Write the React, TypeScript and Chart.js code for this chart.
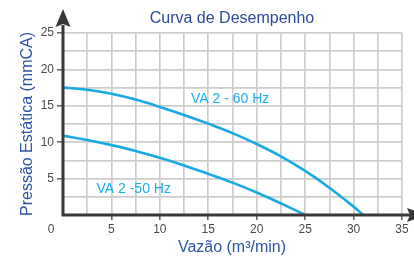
import React, { useEffect, useRef } from "react";
import { Chart, registerables } from "chart.js";

Chart.register(...registerables);

// Data
const flow60: number[] = [0, 2.5, 5, 7.5, 10, 12.5, 15, 17.5, 20, 22.5, 25, 27.5, 30, 31];
const pressure60: number[] = [17.5, 17.2, 16.65, 15.85, 14.85, 13.75, 12.55, 11.25, 9.75, 8.05, 6.05, 3.75, 1.15, 0];
const flow50: number[] = [0, 2.5, 5, 7.5, 10, 12.5, 15, 17.5, 20, 22.5, 25];
const pressure50: number[] = [10.9, 10.3, 9.6, 8.8, 7.85, 6.8, 5.65, 4.45, 3.1, 1.6, 0];

const titleText = "Curva de Desempenho";
const xTitle = "Vazão (m³/min)";
const yTitle = "Pressão Estática (mmCA)";
const label60 = "VA 2 - 60 Hz";
const label50 = "VA 2 -50 Hz";
const xMax = 35;
const yMax = 25;
const majorStep = 5;
const gridStep = 2.5;

const FONT = "'Liberation Sans', Arial, sans-serif";
const LINE_COLOR = "#1aa9e2";
const LABEL_COLOR = "#19aeea";
const AXIS_COLOR = "#383838";
const GRID_COLOR = "#cccccc";
const TICK_TEXT = "#4a4a4a";
const TITLE_COLOR = "#2d4b9b";
const AXIS_TITLE_COLOR = "#2f54a5";

const isMajor = (v: number) => Math.abs(v / majorStep - Math.round(v / majorStep)) < 1e-6;

const decorPlugin = {
  id: "decor",
  afterDraw(chart: any) {
    const { ctx, scales } = chart;
    const xs = scales.x;
    const ys = scales.y;
    const x0 = xs.getPixelForValue(0);
    const y0 = ys.getPixelForValue(0);
    const xEnd = xs.getPixelForValue(xMax);
    const yTop = ys.getPixelForValue(yMax);
    ctx.save();
    // axes
    ctx.strokeStyle = AXIS_COLOR;
    ctx.fillStyle = AXIS_COLOR;
    ctx.lineWidth = 3;
    ctx.beginPath();
    ctx.moveTo(x0, y0 + 1.5);
    ctx.lineTo(x0, yTop - 8);
    ctx.moveTo(x0 - 1.5, y0);
    ctx.lineTo(xEnd + 8, y0);
    ctx.stroke();
    // top arrow
    ctx.beginPath();
    ctx.moveTo(x0, yTop - 24);
    ctx.lineTo(x0 + 7.5, yTop - 6);
    ctx.lineTo(x0, yTop - 9);
    ctx.lineTo(x0 - 7.5, yTop - 6);
    ctx.closePath();
    ctx.fill();
    // right arrow
    ctx.beginPath();
    ctx.moveTo(xEnd + 24, y0);
    ctx.lineTo(xEnd + 5, y0 - 7);
    ctx.lineTo(xEnd + 8, y0);
    ctx.lineTo(xEnd + 5, y0 + 7);
    ctx.closePath();
    ctx.fill();

    // origin label
    ctx.fillStyle = TICK_TEXT;
    ctx.font = `12px ${FONT}`;
    ctx.textAlign = "center";
    ctx.textBaseline = "middle";
    ctx.fillText("0", x0 - 12, y0 + 15);

    // title
    ctx.fillStyle = TITLE_COLOR;
    ctx.font = `16px ${FONT}`;
    ctx.textAlign = "center";
    ctx.textBaseline = "alphabetic";
    ctx.fillText(titleText, 232, 22.5);

    // x title
    ctx.fillStyle = AXIS_TITLE_COLOR;
    ctx.fillText(xTitle, 232, 251.5);

    // y title
    ctx.save();
    ctx.translate(31.5, 124);
    ctx.rotate(-Math.PI / 2);
    ctx.fillText(yTitle, 0, 0);
    ctx.restore();

    // curve labels
    ctx.fillStyle = LABEL_COLOR;
    ctx.font = `14px ${FONT}`;
    ctx.textAlign = "left";
    ctx.fillText(label60, 191, 103);
    ctx.fillText(label50, 96.5, 192.5);
    ctx.restore();
  },
};

export default function App() {
  const ref = useRef<HTMLCanvasElement | null>(null);

  useEffect(() => {
    document.body.style.margin = "0";
    const canvas = ref.current;
    if (!canvas) return;
    const chart = new Chart(canvas, {
      type: "line",
      data: {
        datasets: [
          {
            label: label60,
            data: flow60.map((x, i) => ({ x, y: pressure60[i] })),
            borderColor: LINE_COLOR,
            borderWidth: 2.6,
            pointRadius: 0,
            tension: 0.4,
            fill: false,
          },
          {
            label: label50,
            data: flow50.map((x, i) => ({ x, y: pressure50[i] })),
            borderColor: LINE_COLOR,
            borderWidth: 2.6,
            pointRadius: 0,
            tension: 0.4,
            fill: false,
          },
        ],
      },
      options: {
        animation: false,
        responsive: false,
        events: [],
        layout: { padding: { top: 33, right: 12, left: 0, bottom: 0 } },
        plugins: {
          legend: { display: false },
          title: { display: false },
          tooltip: { enabled: false },
        },
        scales: {
          x: {
            type: "linear",
            min: 0,
            max: xMax,
            afterFit: (s: any) => {
              s.height = 43;
            },
            border: { display: false },
            grid: {
              color: (c: any) => (c.tick && c.tick.value === 0 ? "transparent" : GRID_COLOR),
              lineWidth: 1.7,
              drawTicks: true,
              tickLength: 5,
              tickWidth: 1.2,
              tickColor: (c: any) =>
                c.tick && isMajor(c.tick.value) && c.tick.value !== 0 ? AXIS_COLOR : "transparent",
            },
            ticks: {
              stepSize: gridStep,
              autoSkip: false,
              maxRotation: 0,
              padding: 2,
              color: TICK_TEXT,
              font: { family: FONT, size: 12 },
              callback: (v: any) => (isMajor(Number(v)) && Number(v) !== 0 ? String(v) : ""),
            },
          },
          y: {
            type: "linear",
            min: 0,
            max: yMax,
            afterFit: (s: any) => {
              s.width = 63;
            },
            border: { display: false },
            grid: {
              color: (c: any) => (c.tick && c.tick.value === 0 ? "transparent" : GRID_COLOR),
              lineWidth: 1.7,
              drawTicks: true,
              tickLength: 6,
              tickWidth: 1.2,
              tickColor: (c: any) =>
                c.tick && isMajor(c.tick.value) && c.tick.value !== 0 ? AXIS_COLOR : "transparent",
            },
            ticks: {
              stepSize: gridStep,
              autoSkip: false,
              padding: 3,
              color: TICK_TEXT,
              font: { family: FONT, size: 12 },
              callback: (v: any) => (isMajor(Number(v)) && Number(v) !== 0 ? String(v) : ""),
            },
          },
        },
      },
      plugins: [decorPlugin],
    } as any);
    return () => chart.destroy();
  }, []);

  return (
    <div style={{ width: 414, height: 258 }}>
      <canvas ref={ref} width={414} height={258} style={{ display: "block" }} />
    </div>
  );
}
